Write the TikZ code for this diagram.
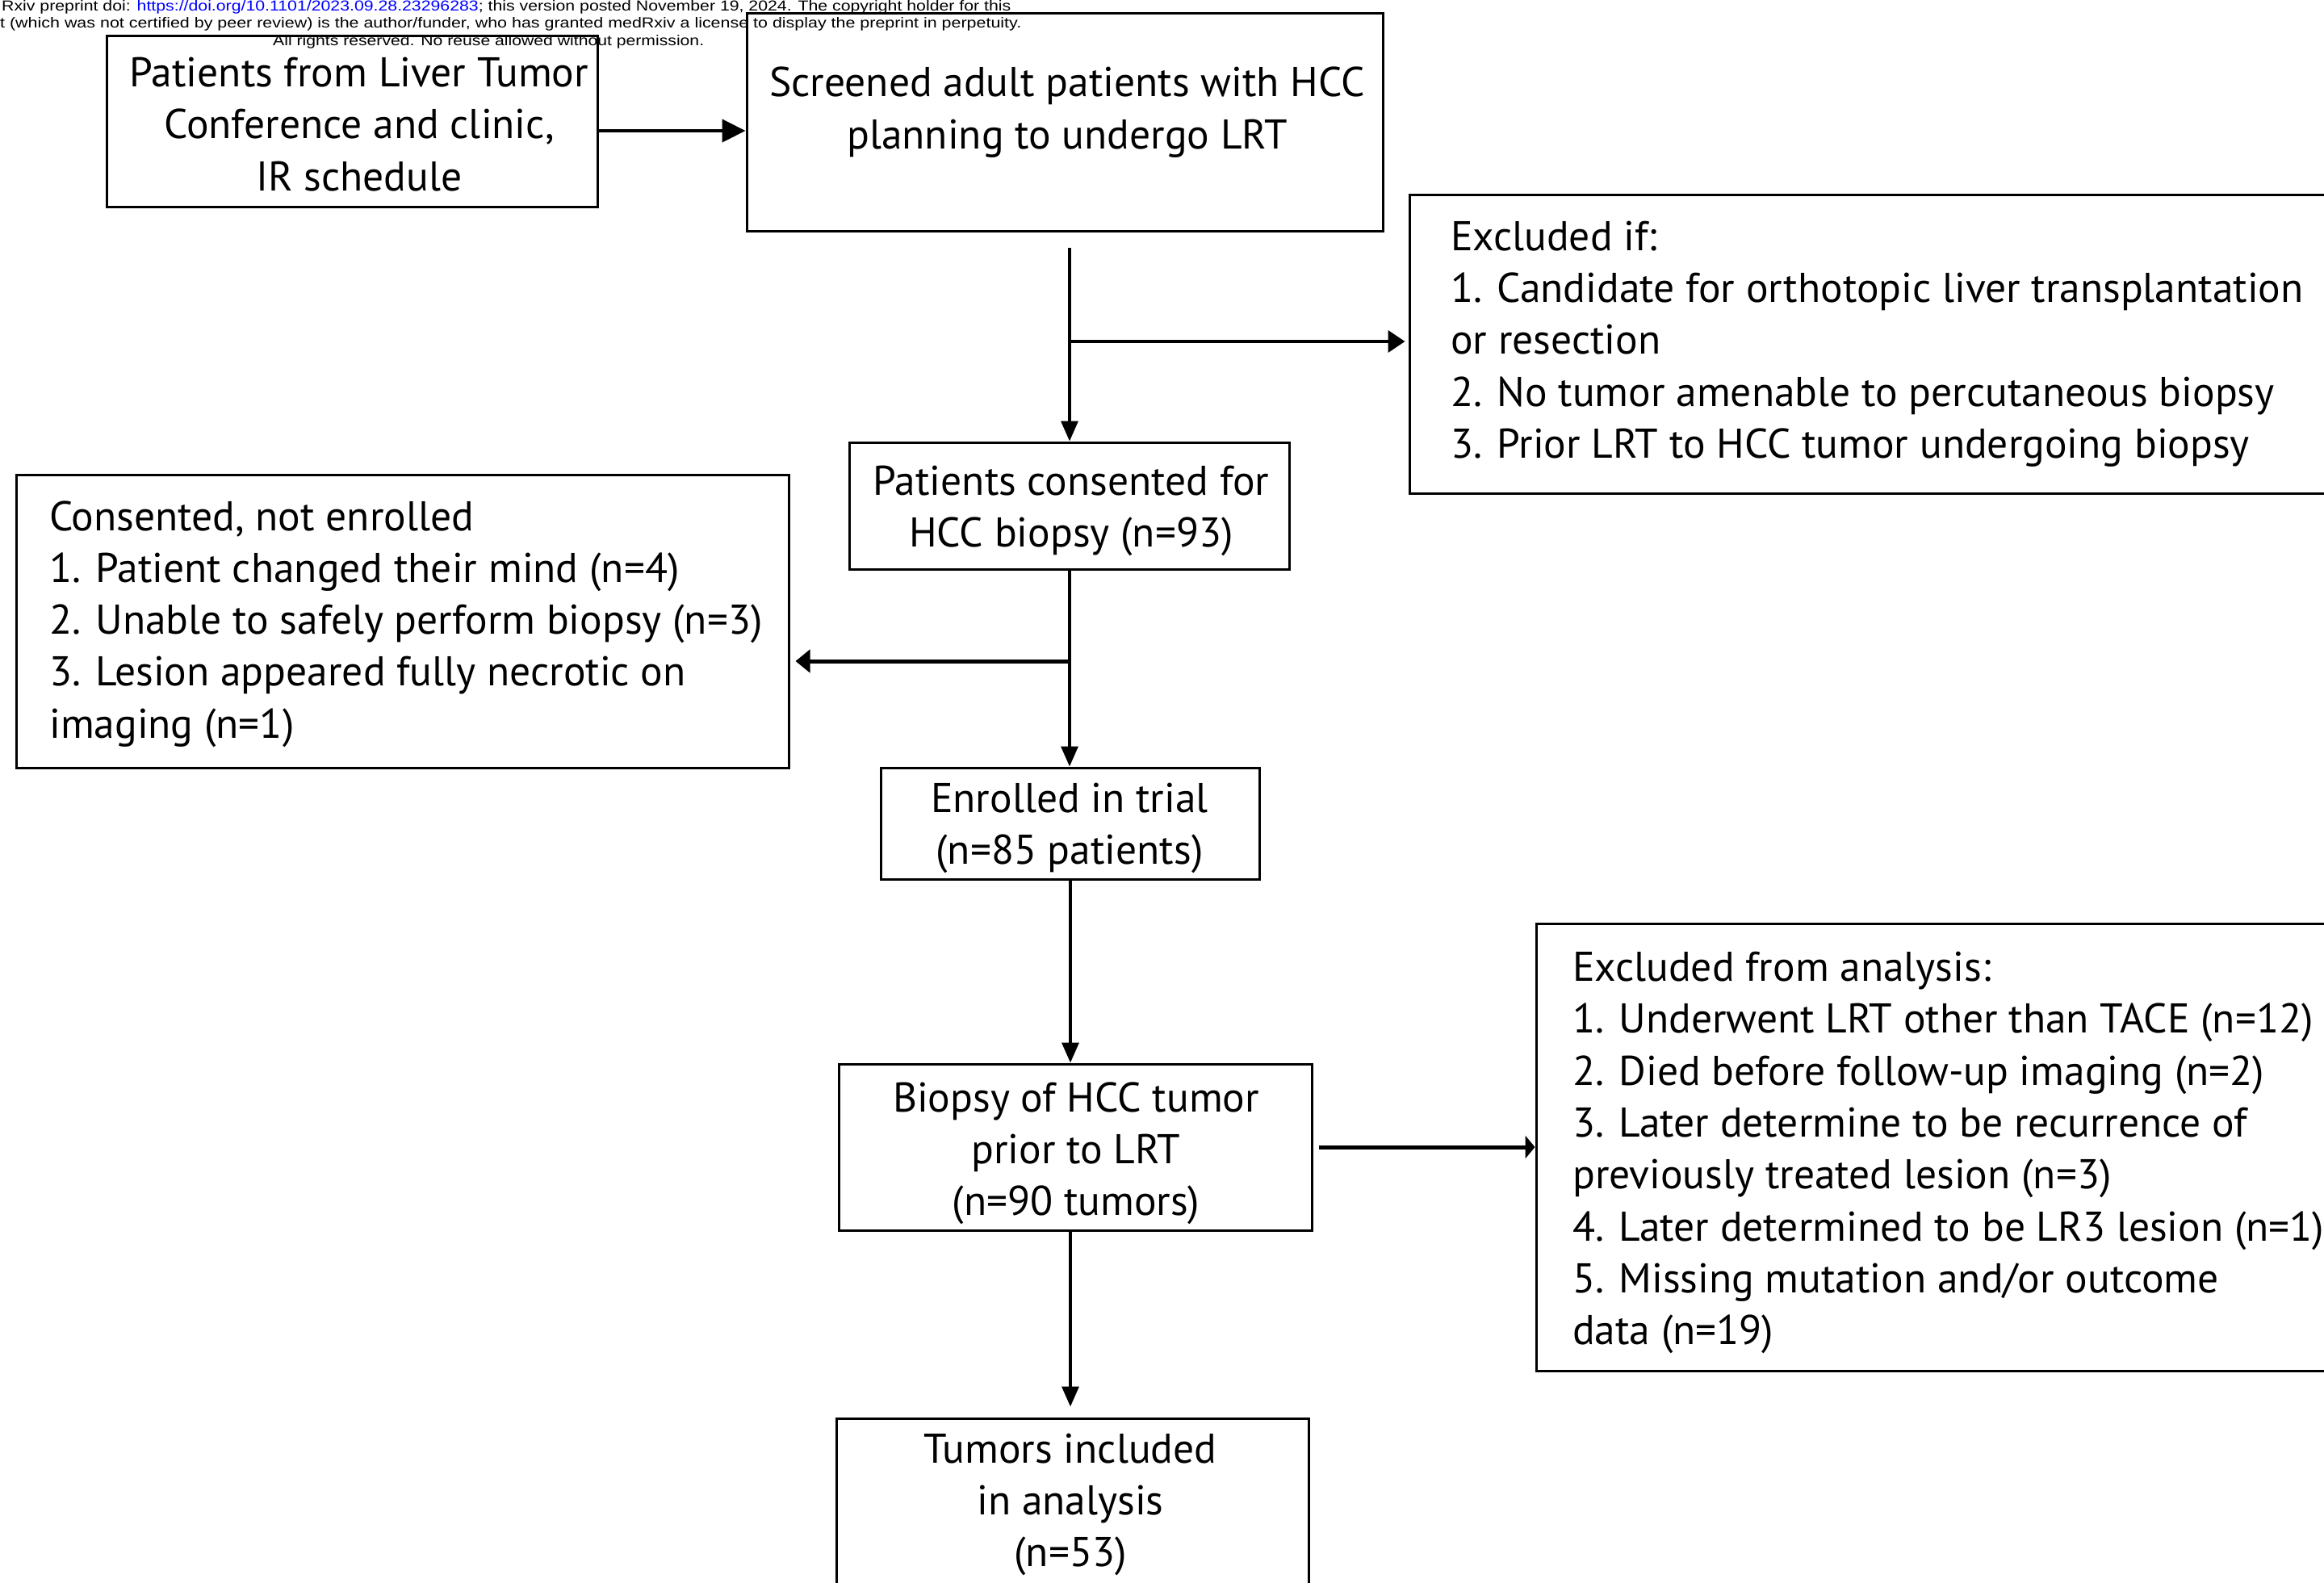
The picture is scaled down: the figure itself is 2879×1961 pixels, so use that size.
\documentclass[tikz,border=0pt]{standalone}
\usepackage{fontspec}
\setmainfont{PT Sans}
\newfontfamily\wmfont{Liberation Sans}
\usetikzlibrary{arrows.meta}
\begin{document}
\begin{tikzpicture}[x=1pt,y=-1pt,
  box/.style={draw, line width=3pt, inner sep=0pt, rectangle},
  txt/.style={inner sep=0pt, font=\fontsize{51.5}{64.3}\selectfont},
  wm/.style={inner sep=0pt, anchor=base west},
  ln/.style={line width=3.5pt},
  downtip/.style={-{Triangle[length=25pt,width=21pt]}},
]
\useasboundingbox (0,0) rectangle (2879,1961);
\clip (0,0) rectangle (2879,1961);
\fill[white] (0,0) rectangle (2879,1961);

% boxes
\node[box, minimum width=608pt, minimum height=212pt] (A) at (436,151) {};
\node[box, minimum width=788pt, minimum height=269pt] (B) at (1319,151.5) {};
\node[box, minimum width=1254pt, minimum height=369pt] (X1) at (2373,426.5) {};
\node[box, minimum width=545pt, minimum height=157pt] (C) at (1325,626.5) {};
\node[box, minimum width=957pt, minimum height=363pt] (N) at (498.5,769.5) {};
\node[box, minimum width=469pt, minimum height=138pt] (D) at (1326,1020) {};
\node[box, minimum width=586pt, minimum height=206pt] (E) at (1332,1421) {};
\node[box, minimum width=1097pt, minimum height=554pt] (X2) at (2451.5,1421) {};
\node[box, minimum width=585pt, minimum height=343pt] (F) at (1328.5,1928.5) {};

% texts
\node[txt, align=center] (tA) at (445,154) {Patients from Liver Tumor\\Conference and clinic,\\IR schedule};
\node[txt, align=center] (tB) at (1322,139) {Screened adult patients with HCC\\planning to undergo LRT};
\node[txt, align=left, anchor=west] (tX1) at (1797,426) {Excluded if:\\1. Candidate for orthotopic liver transplantation\\or resection\\2. No tumor amenable to percutaneous biopsy\\3. Prior LRT to HCC tumor undergoing biopsy};
\node[txt, align=center] (tC) at (1327,633) {Patients consented for\\HCC biopsy (n=93)};
\node[txt, align=left, anchor=west] (tN) at (61,773) {Consented, not enrolled\\1. Patient changed their mind (n=4)\\2. Unable to safely perform biopsy (n=3)\\3. Lesion appeared fully necrotic on\\imaging (n=1)};
\node[txt, align=center] (tD) at (1325,1026) {Enrolled in trial\\(n=85 patients)};
\node[txt, align=center] (tE) at (1333,1429) {Biopsy of HCC tumor\\prior to LRT\\(n=90 tumors)};
\node[txt, align=left, anchor=west] (tX2) at (1948,1428) {Excluded from analysis:\\1. Underwent LRT other than TACE (n=12)\\2. Died before follow-up imaging (n=2)\\3. Later determine to be recurrence of\\previously treated lesion (n=3)\\4. Later determined to be LR3 lesion (n=1)\\5. Missing mutation and/or outcome\\data (n=19)};
\node[txt, align=center] (tF) at (1326,1864) {Tumors included\\in analysis\\(n=53)};

% watermark
\node[wm] (w1) at (2,14) {\resizebox{1250pt}{13pt}{\wmfont Rxiv preprint doi: \textcolor{blue}{https://doi.org/10.1101/2023.09.28.23296283}; this version posted November 19, 2024. The copyright holder for this}};
\node[wm] (w2) at (0,35) {\resizebox{1265pt}{13pt}{\wmfont t (which was not certified by peer review) is the author/funder, who has granted medRxiv a license to display the preprint in perpetuity.}};
\node[wm] (w3) at (338,57) {\resizebox{534pt}{13pt}{\wmfont All rights reserved. No reuse allowed without permission.}};

% connectors
\coordinate (yab) at (0,162);
\coordinate (s1) at (1325,307);
\coordinate (j1) at (1325,423);
\coordinate (j2) at (1325,819);

\draw[line width=4.5pt, -{Triangle[length=29pt,width=28pt]}] (A.east |- yab) -- (B.west |- yab);
\draw[ln, downtip] (s1) -- (s1 |- C.north);
\draw[line width=4pt, -{Triangle[length=21pt,width=27pt]}, shorten >=4pt] (j1) -- (j1 -| X1.west);
\draw[ln, downtip] (C.south) -- (C.south |- D.north);
\draw[line width=5pt, -{Triangle[length=18pt,width=28pt]}, shorten >=7pt] (j2) -- (j2 -| N.east);
\draw[ln, downtip] (D.south) -- (D.south |- E.north);
\draw[line width=5pt, -{Triangle[length=12pt,width=28pt]}] ([xshift=7pt]E.east) -- (X2.west |- E.east);
\draw[ln, downtip, shorten >=13pt] (D.south |- E.south) -- (D.south |- F.north);
\end{tikzpicture}
\end{document}
